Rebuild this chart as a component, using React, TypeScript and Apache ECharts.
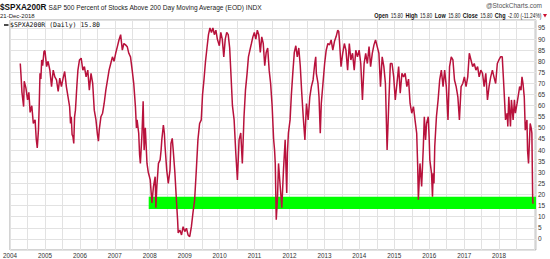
import React, { useEffect, useRef } from "react";
import * as echarts from "echarts";

// ---- axis setup (decimal years on x, percent on y) ----
const yearLabels = [2004, 2005, 2006, 2007, 2008, 2009, 2010, 2011, 2012, 2013, 2014, 2015, 2016, 2017, 2018];
const yLabels = [0, 5, 10, 15, 20, 25, 30, 35, 40, 45, 50, 55, 60, 65, 70, 75, 80, 85, 90, 95];
const X_MIN = 2004;
const X_MAX = 2019.056;
const Y_MIN = -5;
const Y_MAX = 98.6;

// ---- highlighted green zone ----
const bandStart = 2007.97;
const bandLow = 13.5;
const bandHigh = 19;

// ---- header values ----
const lastValue = "15.80";
const ohlcLabels = ["Open", "High", "Low", "Close", "Chg"];
const ohlcValues = ["15.80", "15.80", "15.80", "15.80", "-2.00 (-11.24%)"];

// ---- $SPXA200R readings [decimal year, percent] ----
const p2004: [number, number][] = [
  [2004.294, 79], [2004.314, 74], [2004.342, 66], [2004.39, 59.6], [2004.407, 71], [2004.455, 68],
  [2004.503, 62.6], [2004.54, 66], [2004.576, 57], [2004.624, 60], [2004.667, 52], [2004.718, 53.6],
  [2004.751, 45], [2004.78, 41], [2004.814, 49], [2004.836, 60], [2004.859, 74.6], [2004.884, 72],
  [2004.907, 80.6], [2004.935, 78], [2004.972, 84.4],
];
const p2005: [number, number][] = [
  [2005.0, 84.8], [2005.048, 77.6], [2005.09, 80], [2005.141, 76], [2005.189, 68.6], [2005.237, 76],
  [2005.283, 73], [2005.331, 71.6], [2005.379, 66.4], [2005.424, 72.4], [2005.472, 68.6], [2005.52, 72.4],
  [2005.565, 75.4], [2005.613, 68.6], [2005.661, 64], [2005.706, 59.6], [2005.732, 52], [2005.754, 55],
  [2005.777, 47], [2005.802, 46], [2005.825, 43], [2005.848, 55], [2005.873, 58], [2005.896, 64],
  [2005.918, 70], [2005.944, 76], [2005.989, 80.6],
];
const p2006: [number, number][] = [
  [2006.037, 81.4], [2006.085, 76], [2006.13, 77.6], [2006.178, 73], [2006.226, 76], [2006.271, 67],
  [2006.319, 74.6], [2006.367, 70], [2006.412, 58], [2006.46, 53.6], [2006.503, 47], [2006.531, 44],
  [2006.554, 49], [2006.602, 55], [2006.65, 56.6], [2006.695, 61], [2006.743, 67], [2006.791, 71.6],
  [2006.836, 76], [2006.884, 79], [2006.932, 82], [2006.977, 80],
];
const p2007: [number, number][] = [
  [2007.025, 83.6], [2007.073, 86.6], [2007.119, 89.6], [2007.167, 92], [2007.215, 85], [2007.26, 88],
  [2007.308, 87.4], [2007.356, 86.6], [2007.401, 83.6], [2007.449, 82], [2007.497, 76], [2007.542, 70],
  [2007.59, 59.6], [2007.619, 50], [2007.638, 53.6], [2007.684, 47.6], [2007.709, 38], [2007.732, 34],
  [2007.78, 48], [2007.811, 62], [2007.839, 40], [2007.873, 50], [2007.921, 34], [2007.958, 30],
];
const p2008: [number, number][] = [
  [2008.014, 26.6], [2008.062, 16.2], [2008.107, 23.6], [2008.155, 28], [2008.175, 14], [2008.203, 23.6],
  [2008.249, 34], [2008.297, 35.6], [2008.325, 40], [2008.345, 44.6], [2008.39, 51.3], [2008.418, 47.7],
  [2008.438, 41.6], [2008.486, 31], [2008.531, 25], [2008.579, 31], [2008.607, 43], [2008.644, 45.3],
  [2008.672, 40], [2008.72, 29.7], [2008.768, 16.2], [2008.797, 8.6], [2008.814, 2.7], [2008.862, 4],
  [2008.91, 1.8], [2008.955, 5.5],
];
const p2009: [number, number][] = [
  [2009.003, 3.3], [2009.051, 4.8], [2009.096, 1.8], [2009.144, 1], [2009.192, 5.5], [2009.237, 11.7],
  [2009.285, 17.6], [2009.333, 31], [2009.379, 44.6], [2009.427, 52], [2009.475, 53.6], [2009.511, 65],
  [2009.554, 72], [2009.596, 80], [2009.638, 86], [2009.681, 92], [2009.723, 95], [2009.766, 93],
  [2009.808, 95], [2009.85, 92], [2009.893, 94], [2009.935, 90], [2009.992, 87],
];
const p2010: [number, number][] = [
  [2010.034, 93], [2010.076, 90], [2010.119, 82], [2010.161, 90], [2010.203, 93], [2010.246, 92],
  [2010.288, 86], [2010.331, 72], [2010.367, 60], [2010.415, 53.6], [2010.463, 38.7], [2010.509, 26.6],
  [2010.557, 44.6], [2010.605, 47.7], [2010.65, 34], [2010.698, 55], [2010.74, 67], [2010.783, 74],
  [2010.825, 82], [2010.867, 85], [2010.91, 88], [2010.952, 91], [2010.994, 93],
];
const p2011: [number, number][] = [
  [2011.037, 90], [2011.079, 94], [2011.121, 92], [2011.164, 84], [2011.206, 91], [2011.249, 88],
  [2011.291, 78], [2011.333, 84], [2011.376, 86], [2011.418, 76], [2011.46, 70], [2011.503, 60],
  [2011.545, 45], [2011.573, 40], [2011.593, 34], [2011.621, 8.6], [2011.658, 19], [2011.686, 34],
  [2011.735, 23.6], [2011.78, 14], [2011.828, 31], [2011.876, 44.6], [2011.921, 20.7], [2011.941, 38.7],
  [2011.969, 47.7],
];
const p2012: [number, number][] = [
  [2012.017, 53.6], [2012.054, 65], [2012.096, 75], [2012.138, 84], [2012.181, 87], [2012.223, 82],
  [2012.266, 86], [2012.308, 78], [2012.35, 66], [2012.393, 55], [2012.441, 44.6], [2012.486, 61],
  [2012.534, 53.6], [2012.582, 64], [2012.627, 68.6], [2012.675, 71.6], [2012.723, 79], [2012.751, 82],
  [2012.768, 74.6], [2012.816, 70], [2012.845, 64], [2012.881, 47.6], [2012.91, 61], [2012.958, 70],
];
const p2013: [number, number][] = [
  [2013.006, 79], [2013.051, 85], [2013.099, 88], [2013.147, 87.4], [2013.192, 89.6], [2013.24, 85],
  [2013.288, 89], [2013.333, 91], [2013.381, 94], [2013.41, 93.4], [2013.429, 89.6], [2013.475, 77.6],
  [2013.523, 83.6], [2013.571, 88], [2013.616, 85], [2013.664, 76], [2013.712, 88], [2013.757, 80.6],
  [2013.805, 83.6], [2013.853, 76], [2013.898, 85], [2013.946, 82], [2013.994, 85],
];
const p2014: [number, number][] = [
  [2014.04, 79], [2014.088, 62.6], [2014.136, 79], [2014.181, 83.6], [2014.229, 79], [2014.277, 86.6],
  [2014.322, 77.6], [2014.37, 83.6], [2014.418, 87.4], [2014.463, 89.6], [2014.511, 86.6], [2014.559, 83.6],
  [2014.605, 68.6], [2014.653, 82], [2014.701, 77.6], [2014.746, 70], [2014.794, 40], [2014.842, 61],
  [2014.887, 79], [2014.935, 79], [2014.983, 73],
];
const p2015: [number, number][] = [
  [2015.028, 62.6], [2015.076, 70], [2015.124, 77.6], [2015.17, 65.6], [2015.218, 74.6], [2015.266, 73],
  [2015.311, 74.6], [2015.359, 68.6], [2015.407, 72], [2015.452, 61], [2015.5, 56.6], [2015.548, 59.6],
  [2015.593, 53.6], [2015.641, 47.6], [2015.67, 32.6], [2015.689, 17.6], [2015.735, 34], [2015.783, 23.6],
  [2015.831, 41.6], [2015.859, 55], [2015.895, 44.6], [2015.924, 52], [2015.972, 55],
];
const p2016: [number, number][] = [
  [2016.0, 44.6], [2016.017, 35.6], [2016.065, 29.6], [2016.093, 19], [2016.113, 29.6], [2016.136, 25],
  [2016.158, 41.6], [2016.206, 55], [2016.254, 62.6], [2016.299, 71.6], [2016.347, 76], [2016.396, 68.6],
  [2016.441, 76], [2016.489, 68.6], [2016.537, 53.6], [2016.582, 77.6], [2016.63, 82], [2016.678, 80.6],
  [2016.723, 71.6], [2016.771, 68.6], [2016.819, 64], [2016.864, 53.6], [2016.912, 68.6], [2016.96, 70],
];
const p2017: [number, number][] = [
  [2017.006, 73], [2017.054, 68.6], [2017.102, 73], [2017.147, 83.6], [2017.195, 80.6], [2017.243, 77.6],
  [2017.288, 79], [2017.336, 76], [2017.384, 77.6], [2017.429, 73], [2017.477, 76], [2017.525, 74.6],
  [2017.571, 68.6], [2017.619, 74.6], [2017.667, 62.6], [2017.712, 68.6], [2017.76, 73], [2017.808, 76],
  [2017.853, 73], [2017.901, 70], [2017.949, 79], [2017.994, 80.6],
];
const p2018: [number, number][] = [
  [2018.042, 82], [2018.09, 82], [2018.136, 68.6], [2018.184, 53.6], [2018.232, 56.6], [2018.249, 50.6],
  [2018.277, 64], [2018.325, 50.6], [2018.353, 62.6], [2018.401, 53.6], [2018.438, 62.6], [2018.466, 56.6],
  [2018.514, 61], [2018.559, 65.6], [2018.588, 68.6], [2018.627, 67], [2018.655, 73], [2018.684, 70],
  [2018.72, 64], [2018.749, 49], [2018.797, 53.6], [2018.814, 40], [2018.842, 34], [2018.87, 44.6],
  [2018.89, 52], [2018.918, 50], [2018.938, 47.7], [2018.952, 29.7], [2018.96, 19], [2018.969, 15.8],
];

const series = [
  ...p2004, ...p2005, ...p2006, ...p2007, ...p2008, ...p2009, ...p2010, ...p2011,
  ...p2012, ...p2013, ...p2014, ...p2015, ...p2016, ...p2017, ...p2018,
];

const SANS = "'Liberation Sans', Arial, sans-serif";
const MONO = "'DejaVu Sans Mono', monospace";

export default function App() {
  const ref = useRef<HTMLDivElement>(null);

  useEffect(() => {
    if (!ref.current) return;
    const chart = echarts.init(ref.current, undefined, { renderer: "svg" });

    const ohlcText = ohlcLabels.map((l, i) => `{l|${l}} {v|${ohlcValues[i]}}`).join(" ");

    chart.setOption({
      animation: false,
      backgroundColor: "#ffffff",
      grid: {
        left: 3,
        right: 14,
        top: 20,
        bottom: 9,
        show: true,
        borderColor: "#a8a8a8",
        borderWidth: 1,
        backgroundColor: "transparent",
      },
      xAxis: {
        type: "value",
        min: X_MIN,
        max: X_MAX,
        interval: 0.5,
        axisLine: { show: false },
        axisTick: { show: false },
        splitLine: { show: true, lineStyle: { color: "#e2e2e2", width: 1 } },
        axisLabel: {
          show: true,
          margin: 2,
          fontSize: 6.3,
          fontFamily: SANS,
          color: "#333",
          showMinLabel: true,
          showMaxLabel: true,
          formatter: (v: number) => (yearLabels.includes(v) ? String(v) : ""),
        },
      },
      yAxis: {
        type: "value",
        position: "right",
        min: Y_MIN,
        max: Y_MAX,
        interval: 5,
        axisLine: { show: false },
        axisTick: { show: false },
        splitLine: { show: true, lineStyle: { color: "#e2e2e2", width: 1 } },
        axisLabel: {
          show: true,
          margin: 2,
          fontSize: 6.5,
          fontFamily: SANS,
          color: "#333",
          align: "left",
          formatter: (v: number) => (yLabels.includes(v) ? String(v) : ""),
        },
      },
      series: [
        {
          type: "line",
          data: series,
          showSymbol: false,
          symbol: "none",
          z: 3,
          lineStyle: { color: "#b8123c", width: 1.5 },
          markArea: {
            silent: true,
            itemStyle: { color: "#00ff00", opacity: 1 },
            data: [[{ xAxis: bandStart, yAxis: bandHigh }, { xAxis: X_MAX, yAxis: bandLow }]],
          },
        },
      ],
      graphic: [
        {
          type: "text",
          x: 0,
          y: 7,
          style: { text: "$SPXA200R", font: `bold 8.2px ${SANS}`, fill: "#111", verticalAlign: "middle" },
        },
        {
          type: "text",
          x: 48.5,
          y: 7.8,
          style: {
            text: "S&P 500 Percent of Stocks Above 200 Day Moving Average (EOD) INDX",
            font: `6.6px ${SANS}`,
            fill: "#222",
            verticalAlign: "middle",
          },
        },
        {
          type: "text",
          x: 0,
          y: 16,
          style: { text: "21-Dec-2018", font: `6px ${SANS}`, fill: "#222", verticalAlign: "middle" },
        },
        {
          type: "text",
          x: 542,
          y: 5.5,
          style: { text: "@StockCharts.com", font: `6.5px ${SANS}`, fill: "#555", align: "right", verticalAlign: "middle" },
        },
        {
          type: "text",
          x: 541.5,
          y: 15.5,
          scaleX: 0.74,
          style: {
            text: ohlcText,
            align: "right",
            verticalAlign: "middle",
            rich: {
              l: { fontFamily: SANS, fontWeight: "bold", fontSize: 7.4, fill: "#111" },
              v: { fontFamily: SANS, fontSize: 6.6, fill: "#222" },
            },
          },
        },
        {
          type: "polygon",
          shape: { points: [[543, 14], [547, 14], [545, 17.5]] },
          style: { fill: "#cc1133" },
        },
        {
          type: "rect",
          shape: { x: 4, y: 24.3, width: 4.5, height: 1.4 },
          style: { fill: "#000" },
          z: 10,
        },
        {
          type: "text",
          x: 10,
          y: 25.2,
          z: 10,
          style: { text: `$SPXA200R (Daily) ${lastValue}`, font: `6.5px ${MONO}`, fill: "#111", verticalAlign: "middle" },
        },
      ],
    });

    return () => chart.dispose();
  }, []);

  return (
    <div
      ref={ref}
      style={{ position: "fixed", left: 0, top: 0, width: 550, height: 259, background: "#fff" }}
    />
  );
}
